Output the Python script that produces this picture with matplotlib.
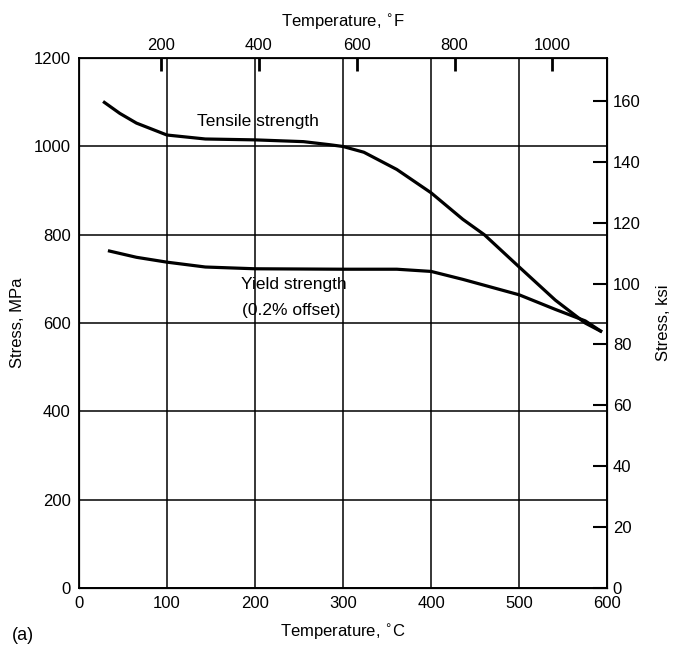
import numpy as np
import matplotlib.pyplot as plt

plt.rcParams['font.family'] = ['Liberation Sans Narrow', 'Liberation Sans', 'DejaVu Sans']

# tensile strength (MPa) vs temperature (C)
ts_temp = [27.5, 46.5, 65.4, 100, 143.6, 200, 255, 285, 300, 323.6, 361, 400, 436, 460.5, 500, 541, 575, 594]
ts_mpa = [1102, 1075, 1053, 1026, 1017, 1015, 1011, 1004, 1000, 987, 948, 895, 835, 800, 727, 652, 600, 580]
# yield strength (0.2% offset)
ys_temp = [33, 65.4, 100, 143.6, 200, 300, 361, 400, 436, 500, 541, 575, 594]
ys_mpa = [764, 749, 738, 727, 723, 722, 722, 717, 699, 664, 631, 605, 580]

f_ticks = [200, 400, 600, 800, 1000]
ksi_ticks = [0, 20, 40, 60, 80, 100, 120, 140, 160]

fig = plt.figure(figsize=(6.74, 6.54), dpi=100)
ax = fig.add_axes([0.117, 0.101, 0.784, 0.810])

ax.plot(ts_temp, ts_mpa, color='k', lw=2.3, solid_capstyle='butt', solid_joinstyle='round')
ax.plot(ys_temp, ys_mpa, color='k', lw=2.3, solid_capstyle='butt', solid_joinstyle='round')

ax.set_xlim(0, 600)
ax.set_ylim(0, 1200)
ax.set_xticks(np.arange(0, 601, 100))
ax.set_yticks(np.arange(0, 1201, 200))
ax.tick_params(length=0, labelsize=12, pad=6)
ax.grid(True, color='k', lw=1.1)
for s in ax.spines.values():
    s.set_linewidth(1.3)

ax.text(203.5, 1056, 'Tensile strength', ha='center', va='center', fontsize=12.5)
ax.text(184.5, 688, 'Yield strength', ha='left', va='center', fontsize=12.5)
ax.text(185.5, 629, '(0.2% offset)', ha='left', va='center', fontsize=12.5)

ax.set_xlabel('Temperature, $^{\\circ}$C', fontsize=12, labelpad=8)
ax.set_ylabel('Stress, MPa', fontsize=12, labelpad=6)

# top axis, Fahrenheit
axt = ax.twiny()
axt.set_xlim(ax.get_xlim())
axt.set_xticks([(f - 32) * 5 / 9 for f in f_ticks])
axt.set_xticklabels([str(f) for f in f_ticks])
axt.tick_params(direction='in', length=9, width=2, labelsize=12, pad=4)
axt.set_xlabel('Temperature, $^{\\circ}$F', fontsize=12, labelpad=8)

# right axis, ksi
axr = ax.twinx()
axr.set_ylim(0, 1200 / 6.895)
axr.set_yticks(ksi_ticks)
axr.tick_params(direction='in', length=10, width=1.5, labelsize=12, pad=4)
axr.set_ylabel('Stress, ksi', fontsize=12, labelpad=11)

fig.text(0.017, 0.022, '(a)', fontsize=13)

fig.savefig('out.png', dpi=100)
